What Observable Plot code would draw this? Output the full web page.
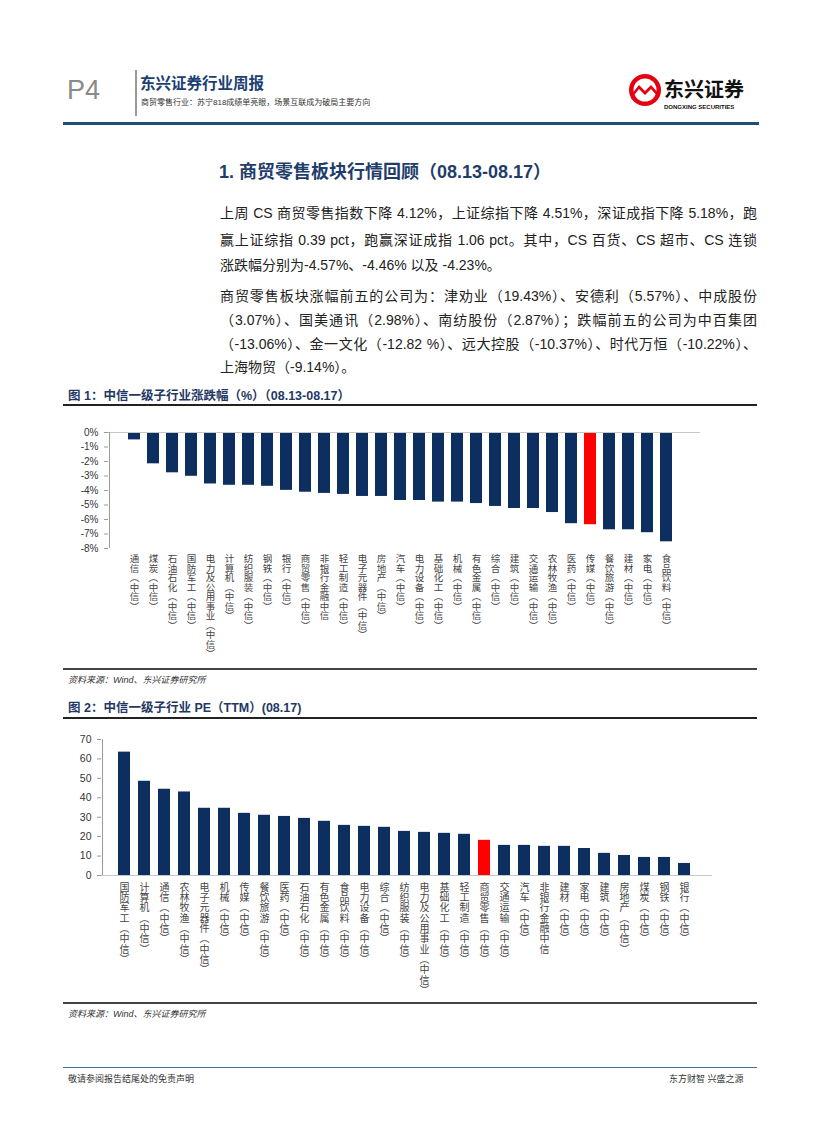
<!DOCTYPE html>
<html><head><meta charset="utf-8">
<script src="https://cdn.jsdelivr.net/npm/d3@7"></script>
<script src="https://cdn.jsdelivr.net/npm/@observablehq/plot@0.6"></script>
<style>
html,body{margin:0;padding:0;background:#fff;}
body{width:827px;height:1122px;position:relative;overflow:hidden;font-family:"Liberation Sans","Noto Sans CJK SC",sans-serif;color:#222;}
.abs{position:absolute;white-space:nowrap;}
.hl{position:absolute;height:0;}
.pl{position:absolute;left:220px;width:537px;font-size:14px;line-height:18px;white-space:nowrap;text-align:justify;text-align-last:justify;color:#222;}
.pl.last{text-align-last:left;}
.ftitle{position:absolute;left:68px;font-size:12.5px;font-weight:bold;color:#1f3864;line-height:16px;}
.src{position:absolute;left:68px;font-size:9px;font-style:italic;color:#333;line-height:12px;}
.chart{position:absolute;left:0;}
</style></head>
<body>
<!-- header -->
<div class="abs" style="left:67px;top:74px;font-size:27px;color:#8a8a8a;font-family:'Liberation Sans';line-height:32px;">P4</div>
<div class="abs" style="left:135px;top:70px;width:1.5px;height:46px;background:#999;"></div>
<div class="abs" style="left:140px;top:74px;font-size:15.5px;font-weight:bold;color:#1d3f72;line-height:20px;">东兴证券行业周报</div>
<div class="abs" style="left:141px;top:97px;font-size:8px;color:#333;line-height:11px;">商贸零售行业：苏宁818成绩单亮眼，场景互联成为破局主要方向</div>
<svg class="abs" style="left:626px;top:70px;" width="135" height="44">
  <circle cx="19" cy="20" r="16" fill="#e60012"/>
  <circle cx="19" cy="20" r="11.5" fill="#fff"/>
  <path d="M5 25 L13 15 L19 21 L25 15 L33 24 L33 28 L25 19 L19 25 L13 19 L5 29 Z" fill="#e60012"/>
  <text x="38" y="27" font-size="20" font-weight="bold" fill="#111" font-family="Noto Sans CJK SC">东兴证券</text>
  <text x="38" y="39" font-size="6" fill="#111" font-family="Liberation Sans" font-weight="bold">DONGXING SECURITIES</text>
</svg>
<div class="hl" style="left:63px;top:122px;width:696px;border-top:3px solid #1f4e79;"></div>

<!-- heading -->
<div class="abs" style="left:219px;top:160px;font-size:18px;font-weight:bold;color:#1f3d6b;line-height:24px;">1. 商贸零售板块行情回顾（08.13-08.17）</div>

<!-- paragraph 1 -->
<div class="pl" style="top:204px;">上周 CS 商贸零售指数下降 4.12%，上证综指下降 4.51%，深证成指下降 5.18%，跑</div>
<div class="pl" style="top:231px;">赢上证综指 0.39 pct，跑赢深证成指 1.06 pct。其中，CS 百货、CS 超市、CS 连锁</div>
<div class="pl last" style="top:256px;">涨跌幅分别为-4.57%、-4.46% 以及 -4.23%。</div>
<!-- paragraph 2 -->
<div class="pl" style="top:287px;">商贸零售板块涨幅前五的公司为：津劝业（19.43%）、安德利（5.57%）、中成股份</div>
<div class="pl" style="top:311px;">（3.07%）、国美通讯（2.98%）、南纺股份（2.87%）；跌幅前五的公司为中百集团</div>
<div class="pl" style="top:335px;">（-13.06%）、金一文化（-12.82 %）、远大控股（-10.37%）、时代万恒（-10.22%）、</div>
<div class="pl last" style="top:358px;">上海物贸（-9.14%）。</div>

<!-- figure 1 -->
<div class="ftitle" style="top:388px;">图 1：中信一级子行业涨跌幅（%）（08.13-08.17）</div>
<div class="hl" style="left:63px;top:404px;width:694px;border-top:2px solid #222;"></div>
<div id="c1" class="chart" style="top:420px;"></div>
<div class="hl" style="left:63px;top:668px;width:694px;border-top:2px solid #444;"></div>
<div class="src" style="top:674px;">资料来源：Wind、东兴证券研究所</div>

<!-- figure 2 -->
<div class="ftitle" style="top:700px;">图 2：中信一级子行业 PE（TTM）(08.17)</div>
<div class="hl" style="left:63px;top:717px;width:694px;border-top:2px solid #222;"></div>
<div id="c2" class="chart" style="top:725px;"></div>
<div class="hl" style="left:63px;top:1002px;width:694px;border-top:2px solid #444;"></div>
<div class="src" style="top:1008px;">资料来源：Wind、东兴证券研究所</div>

<!-- footer -->
<div class="hl" style="left:63px;top:1067px;width:694px;border-top:1.5px solid #3d6fa8;"></div>
<div class="abs" style="left:68px;top:1073px;font-size:9px;color:#333;line-height:12px;">敬请参阅报告结尾处的免责声明</div>
<div class="abs" style="left:669px;top:1073px;font-size:9px;color:#333;line-height:12px;">东方财智 兴盛之源</div>

<script>
// ---- Data: figure 1 (weekly change, %) ----
const industries1 = ["通信","煤炭","石油石化","国防军工","电力及公用事业","计算机","纺织服装","钢铁","银行","商贸零售","非银行金融","轻工制造","电子元器件","房地产","汽车","电力设备","基础化工","机械","有色金属","综合","建筑","交通运输","农林牧渔","医药","传媒","餐饮旅游","建材","家电","食品饮料"];
const change1 = [-0.51,-2.16,-2.78,-3.02,-3.55,-3.64,-3.64,-3.71,-3.99,-4.12,-4.20,-4.27,-4.41,-4.41,-4.69,-4.69,-4.80,-4.80,-4.90,-5.10,-5.24,-5.24,-5.52,-6.29,-6.36,-6.71,-6.71,-6.91,-7.54];
const highlight1 = "传媒";
const yTicks1 = [0,-1,-2,-3,-4,-5,-6,-7,-8];

// ---- Data: figure 2 (PE TTM) ----
const industries2 = ["国防军工","计算机","通信","农林牧渔","电子元器件","机械","传媒","餐饮旅游","医药","石油石化","有色金属","食品饮料","电力设备","综合","纺织服装","电力及公用事业","基础化工","轻工制造","商贸零售","交通运输","汽车","非银行金融","建材","家电","建筑","房地产","煤炭","钢铁","银行"];
const pe2 = [63.5,48.5,44.4,43.0,34.6,34.6,32.0,31.0,30.4,29.4,27.9,25.8,25.3,24.8,22.7,22.2,21.7,21.2,18.1,15.5,15.5,15.0,15.0,13.9,11.4,10.3,9.3,9.3,6.2];
const highlight2 = "商贸零售";
const yTicks2 = [0,10,20,30,40,50,60,70];

const NAVY = "#0d2f5f", RED = "#ff0000";
const fullName = n => n === "非银行金融" ? n + "中信" : n + "(中信)";
// stacked vertical label: one upright character per line
const vert = n => [...fullName(n)].map(c => c === "(" ? "︵" : c === ")" ? "︶" : c).join("\n");

const table1 = industries1.map((name, i) => ({name, value: change1[i]}));
const table2 = industries2.map((name, i) => ({name, value: pe2[i]}));

function leftAxisLine(color) {
  return (index, scales, values, dim) => {
    const g = d3.create("svg:line")
      .attr("x1", dim.marginLeft + 1.5).attr("x2", dim.marginLeft + 1.5)
      .attr("y1", dim.marginTop).attr("y2", dim.height - dim.marginBottom)
      .attr("stroke", color).attr("stroke-width", 1);
    return g.node();
  };
}

const chart1 = Plot.plot({
  width: 827, height: 240,
  marginLeft: 108, marginRight: 135, marginTop: 12, marginBottom: 112,
  style: {fontFamily: "'Liberation Sans','Noto Sans CJK SC',sans-serif", background: "transparent"},
  x: {domain: industries1, padding: 0.35, axis: null},
  y: {domain: [-8, 0], ticks: yTicks1, tickFormat: d => d + "%", label: null},
  marks: [
    Plot.barY(table1, {x: "name", y1: 0, y2: "value", fill: d => d.name === highlight1 ? RED : NAVY}),
    Plot.ruleY([0], {stroke: "#c8c8c8", strokeWidth: 1, insetRight: -8}),
    Plot.axisY({ticks: yTicks1, tickFormat: d => d + "%", tickSize: 4, tickPadding: 6, fontSize: 10, stroke: "#999", color: "#333", label: null}),
    leftAxisLine("#999"),
    Plot.text(industries1, {x: d => d, frameAnchor: "bottom", dy: 7, lineAnchor: "top", text: vert, lineHeight: 1, fontSize: 9.5, fill: "#444", fontFamily: "Noto Sans CJK SC"})
  ]
});
document.getElementById("c1").appendChild(chart1);

const chart2 = Plot.plot({
  width: 827, height: 276,
  marginLeft: 101, marginRight: 119, marginTop: 14, marginBottom: 126,
  style: {fontFamily: "'Liberation Sans','Noto Sans CJK SC',sans-serif", background: "transparent"},
  x: {domain: industries2, padding: 0.38, axis: null},
  y: {domain: [0, 70], ticks: yTicks2, label: null},
  marks: [
    Plot.barY(table2, {x: "name", y1: 0, y2: "value", fill: d => d.name === highlight2 ? RED : NAVY}),
    Plot.ruleY([0], {stroke: "#c8c8c8", strokeWidth: 1, insetRight: -4}),
    Plot.axisY({ticks: yTicks2, tickSize: 4, tickPadding: 6, fontSize: 10.5, stroke: "#999", color: "#333", label: null}),
    leftAxisLine("#999"),
    Plot.text(industries2, {x: d => d, frameAnchor: "bottom", dy: 8, lineAnchor: "top", text: vert, lineHeight: 1.03, fontSize: 10, fill: "#444", fontFamily: "Noto Sans CJK SC"})
  ]
});
document.getElementById("c2").appendChild(chart2);
</script>
</body></html>
